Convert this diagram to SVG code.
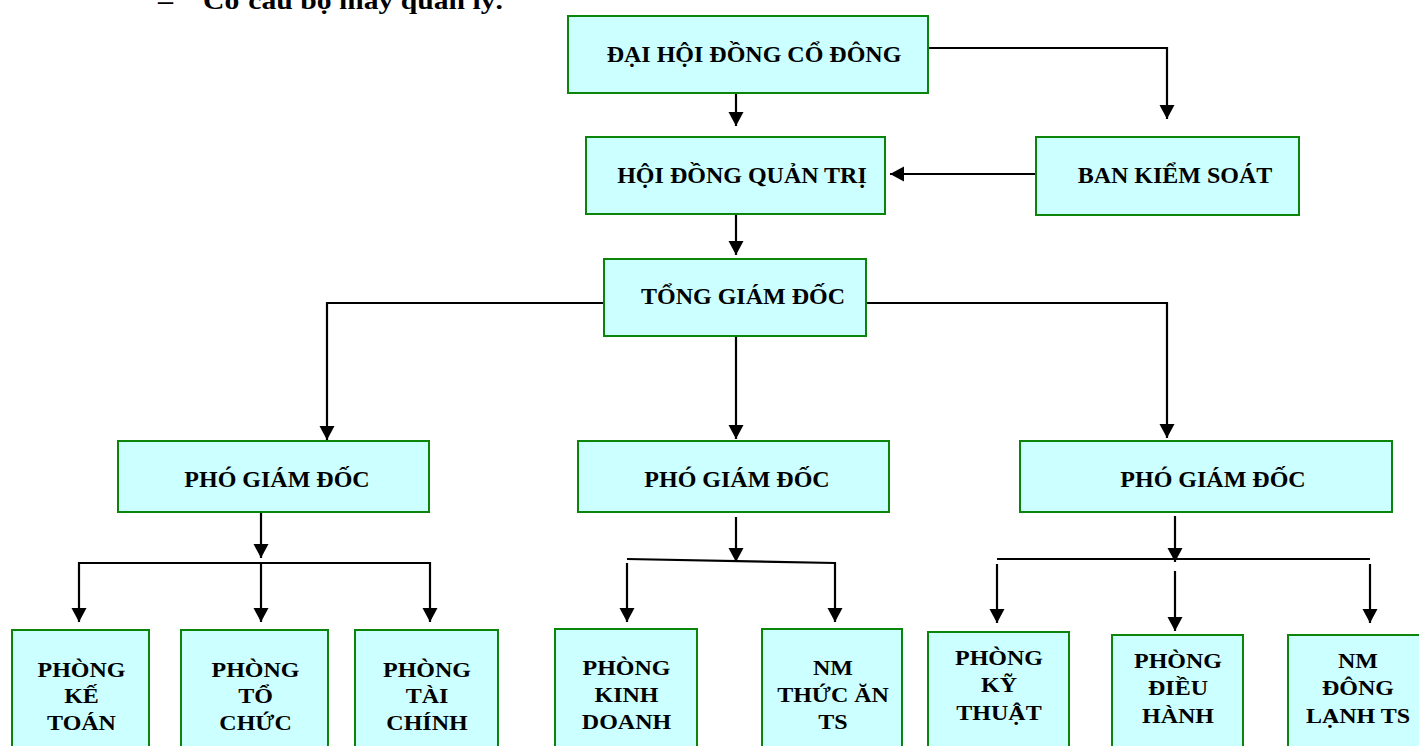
<svg xmlns="http://www.w3.org/2000/svg" width="1419" height="746" viewBox="0 0 1419 746">
<style>
  .box { fill: #CCFFFF; stroke: #0A850A; stroke-width: 2; }
  .t { font-family: "Liberation Serif", "Times New Roman", serif; font-weight: bold; fill: #000; text-anchor: middle; }
  .big { font-size: 24px; }
  .sm { font-size: 20px; }
  .conn path { fill: none; stroke: #000; stroke-width: 2.2; }
  .conn path.a { marker-end: url(#arr); }
</style>
<defs>
  <marker id="arr" markerUnits="userSpaceOnUse" markerWidth="16" markerHeight="16" refX="14" refY="7.5" orient="auto" viewBox="0 0 16 16">
    <path d="M0,0 L14,7.5 L0,15 Z" fill="#000"/>
  </marker>
</defs>
<rect width="1419" height="746" fill="#fff"/>

<g id="title">
  <text x="158" y="9" class="t" style="text-anchor:start;font-size:26px" textLength="15" lengthAdjust="spacingAndGlyphs">–</text>
  <text x="203" y="9" class="t" style="text-anchor:start;font-size:26px" textLength="300" lengthAdjust="spacingAndGlyphs">Cơ cấu bộ máy quản lý.</text>
</g>

<g class="conn" id="connectors">
  <path class="a" d="M736,93 V126"/>
  <path class="a" d="M928,48 H1167 V119"/>
  <path class="a" d="M1035,174 H890"/>
  <path class="a" d="M736,215 V255"/>
  <path class="a" d="M604,303 H327 V440"/>
  <path class="a" d="M736,337 V439"/>
  <path class="a" d="M866,303 H1167 V438"/>
  <path class="a" d="M261,513 V558"/>
  <path d="M79,563 H430"/>
  <path class="a" d="M79,562 V622"/>
  <path class="a" d="M261,563 V622"/>
  <path class="a" d="M430,562 V622"/>
  <path class="a" d="M736,517 V562"/>
  <path d="M627,559 L835,563"/>
  <path class="a" d="M627,563 V622"/>
  <path class="a" d="M835,562 V622"/>
  <path class="a" d="M1175,516 V562"/>
  <path d="M997,559 H1370"/>
  <path class="a" d="M997,564 V623"/>
  <path class="a" d="M1175,571 V631"/>
  <path class="a" d="M1370,564 V623"/>
</g>

<g id="dhdcd">
  <rect class="box" x="568" y="16" width="360" height="77"/>
  <text class="t big" x="754" y="62">ĐẠI HỘI ĐỒNG CỔ ĐÔNG</text>
</g>
<g id="bks">
  <rect class="box" x="1036" y="137" width="263" height="78"/>
  <text class="t big" x="1175" y="183">BAN KIỂM SOÁT</text>
</g>
<g id="hdqt">
  <rect class="box" x="586" y="137" width="299" height="77"/>
  <text class="t big" x="742" y="183">HỘI ĐỒNG QUẢN TRỊ</text>
</g>
<g id="tgd">
  <rect class="box" x="604" y="259" width="262" height="77"/>
  <text class="t big" x="743" y="304">TỔNG GIÁM ĐỐC</text>
</g>
<g id="pgd1">
  <rect class="box" x="118" y="441" width="311" height="71"/>
  <text class="t big" x="277" y="487">PHÓ GIÁM ĐỐC</text>
</g>
<g id="pgd2">
  <rect class="box" x="578" y="441" width="311" height="71"/>
  <text class="t big" x="737" y="487">PHÓ GIÁM ĐỐC</text>
</g>
<g id="pgd3">
  <rect class="box" x="1020" y="441" width="372" height="71"/>
  <text class="t big" x="1213" y="487">PHÓ GIÁM ĐỐC</text>
</g>

<g id="p-ketoan">
  <rect class="box" x="12" y="630" width="137" height="130"/>
  <g transform="translate(81.5 0) scale(1.2 1)">
    <text class="t sm" x="0" y="677">PHÒNG</text>
    <text class="t sm" x="0" y="703.5">KẾ</text>
    <text class="t sm" x="0" y="730.5">TOÁN</text>
  </g>
</g>
<g id="p-tochuc">
  <rect class="box" x="181" y="630" width="147" height="130"/>
  <g transform="translate(255.5 0) scale(1.2 1)">
    <text class="t sm" x="0" y="677">PHÒNG</text>
    <text class="t sm" x="0" y="703.5">TỔ</text>
    <text class="t sm" x="0" y="730.5">CHỨC</text>
  </g>
</g>
<g id="p-taichinh">
  <rect class="box" x="355" y="630" width="143" height="130"/>
  <g transform="translate(427 0) scale(1.2 1)">
    <text class="t sm" x="0" y="677">PHÒNG</text>
    <text class="t sm" x="0" y="703.5">TÀI</text>
    <text class="t sm" x="0" y="730.5">CHÍNH</text>
  </g>
</g>
<g id="p-kinhdoanh">
  <rect class="box" x="555" y="629" width="142" height="130"/>
  <g transform="translate(626.5 0) scale(1.2 1)">
    <text class="t sm" x="0" y="675">PHÒNG</text>
    <text class="t sm" x="0" y="702">KINH</text>
    <text class="t sm" x="0" y="729.5">DOANH</text>
  </g>
</g>
<g id="nm-thucan">
  <rect class="box" x="762" y="629" width="140" height="130"/>
  <g transform="translate(833 0) scale(1.2 1)">
    <text class="t sm" x="0" y="675">NM</text>
    <text class="t sm" x="0" y="702">THỨC ĂN</text>
    <text class="t sm" x="0" y="729.5">TS</text>
  </g>
</g>
<g id="p-kythuat">
  <rect class="box" x="928" y="632" width="141" height="130"/>
  <g transform="translate(999 0) scale(1.2 1)">
    <text class="t sm" x="0" y="665">PHÒNG</text>
    <text class="t sm" x="0" y="692.5">KỸ</text>
    <text class="t sm" x="0" y="720">THUẬT</text>
  </g>
</g>
<g id="p-dieuhanh">
  <rect class="box" x="1112" y="635" width="131" height="130"/>
  <g transform="translate(1178 0) scale(1.2 1)">
    <text class="t sm" x="0" y="668">PHÒNG</text>
    <text class="t sm" x="0" y="695.5">ĐIỀU</text>
    <text class="t sm" x="0" y="723">HÀNH</text>
  </g>
</g>
<g id="nm-donglanh">
  <rect class="box" x="1288" y="635" width="142" height="130"/>
  <g transform="translate(1358 0) scale(1.2 1)">
    <text class="t sm" x="0" y="668">NM</text>
    <text class="t sm" x="0" y="695.5">ĐÔNG</text>
    <text class="t sm" x="0" y="723">LẠNH TS</text>
  </g>
</g>
</svg>
